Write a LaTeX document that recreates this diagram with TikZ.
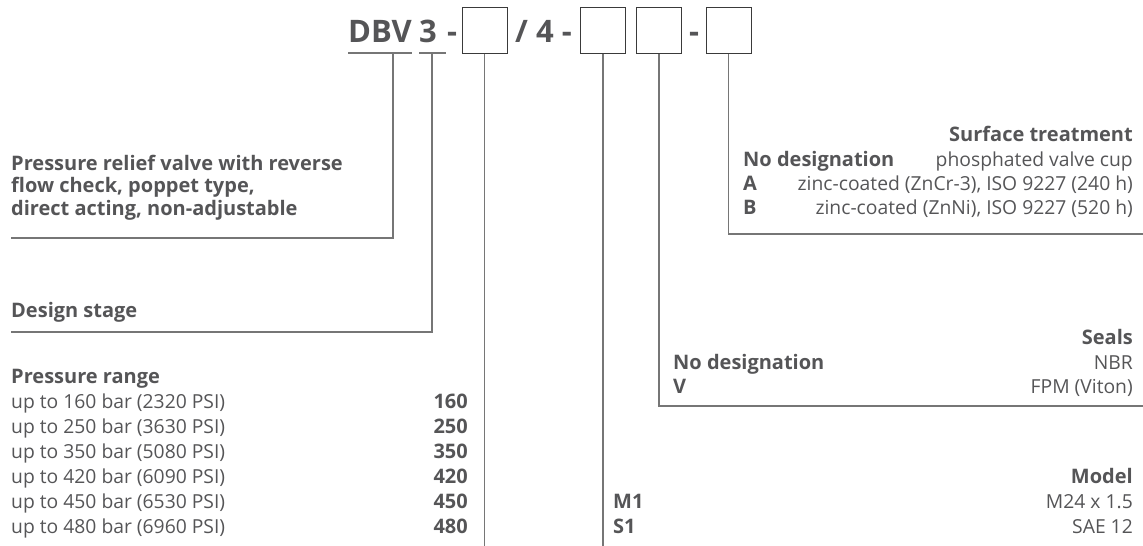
\documentclass[tikz,border=0pt]{standalone}
\usepackage{fontspec}
\setmainfont{Open Sans}
\definecolor{txt}{HTML}{555557}
\definecolor{ln}{HTML}{767676}
\definecolor{bx}{HTML}{3A3A3A}
\begin{document}
\begin{tikzpicture}[x=1pt,y=-1pt,
  t/.style={font=\fontsize{19.3}{22}\selectfont, text=txt, inner sep=0pt},
  tb/.style={font=\fontsize{20}{22}\selectfont\bfseries, text=txt, inner sep=0pt},
  ttl/.style={font=\fontsize{31}{36}\selectfont\bfseries, text=txt, inner sep=0pt, anchor=base west},
  L/.style={anchor=base west},
  R/.style={anchor=base east},
  codebox/.style={draw=bx, line width=1pt, minimum width=45pt, minimum height=46pt, inner sep=0pt},
  lead/.style={draw=ln, line width=1.3pt}]
\useasboundingbox (0,0) rectangle (1143,546);

% ---- title line
\node[ttl] (dbv) at (348,42) {DBV};
\node[ttl] (three) at (419,42) {3};
\node[ttl] (d1) at (447,42) {-};
\node[codebox] (b1) at (484.5,30) {};
\node[ttl] (sl) at (515,42) {/ 4 -};
\node[codebox] (b2) at (603,30) {};
\node[codebox] (b3) at (659,30) {};
\node[ttl] (d2) at (689,42) {-};
\node[codebox] (b4) at (728.5,30) {};

% underlines
\coordinate (ua) at (348,53); \coordinate (ub) at (412,53);
\coordinate (uc) at (419,53); \coordinate (ud) at (446,53);
\draw[lead] (ua) -- (ub);
\draw[lead] (uc) -- (ud);
\coordinate (dbvU) at (393,53);
\coordinate (thrU) at (432,53);

% ---- left texts
\node[tb,L] (p1) at (11,170) {Pressure relief valve with reverse};
\node[tb,L] (p2) at (11,192.5) {flow check, poppet type,};
\node[tb,L] (p3) at (11,215) {direct acting, non-adjustable};
\node[tb,L] (ds) at (11,317) {Design stage};
\node[tb,L] (pr) at (11,383) {Pressure range};
\foreach \i/\a/\b in {0/160/2320,1/250/3630,2/350/5080,3/420/6090,4/450/6530,5/480/6960}{
  \node[t,L] (r\i) at (11,408+25*\i) {up to \a\ bar (\b\ PSI)};
  \node[tb,R] (v\i) at (468,408+25*\i) {\a};
}

% ---- right texts
\node[tb,R] (st) at (1133,141) {Surface treatment};
\node[tb,L] (s0) at (743,166) {No designation};
\node[t,R] (s0v) at (1133,166) {phosphated valve cup};
\node[tb,L] (s1) at (743,190) {A};
\node[t,R] (s1v) at (1133,190) {zinc-coated (ZnCr-3), ISO 9227 (240 h)};
\node[tb,L] (s2) at (743,214) {B};
\node[t,R] (s2v) at (1133,214) {zinc-coated (ZnNi), ISO 9227 (520 h)};

\node[tb,R] (se) at (1133,344.5) {Seals};
\node[tb,L] (e0) at (673,369) {No designation};
\node[t,R] (e0v) at (1133,369) {NBR};
\node[tb,L] (e1) at (673,393.5) {V};
\node[t,R] (e1v) at (1133,393.5) {FPM (Viton)};

\node[tb,R] (mo) at (1133,483) {Model};
\node[tb,L] (m0) at (613,508) {M1};
\node[t,R] (m0v) at (1133,508) {M24 x 1.5};
\node[tb,L] (m1) at (613,533) {S1};
\node[t,R] (m1v) at (1133,533) {SAE 12};

% ---- leaders
\coordinate (k1) at (393,238); \coordinate (k1e) at (11,238);
\coordinate (k2) at (432,332); \coordinate (k2e) at (11,332);
\coordinate (k3) at (484.5,546);
\coordinate (k4) at (603,546);
\coordinate (k5) at (659,406); \coordinate (k5e) at (1143,406);
\coordinate (k6) at (728.5,234); \coordinate (k6e) at (1143,234);
\draw[lead] (dbvU) -- (k1) -- (k1e);
\draw[lead] (thrU) -- (k2) -- (k2e);
\draw[lead] (b1.south) -- (k3);
\draw[lead] (b2.south) -- (k4);
\draw[lead] (b3.south) -- (k5) -- (k5e);
\draw[lead] (b4.south) -- (k6) -- (k6e);
\end{tikzpicture}
\end{document}
